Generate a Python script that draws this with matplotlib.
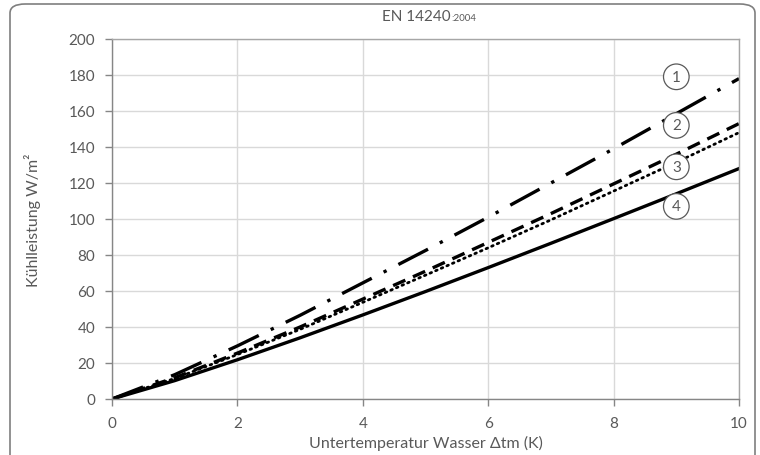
import matplotlib
matplotlib.use("Agg")
import matplotlib.pyplot as plt
from matplotlib.patches import FancyBboxPatch

plt.rcParams['font.family'] = ['Lato', 'DejaVu Sans']

dt = [0, 1, 2, 3, 4, 5, 6, 7, 8, 9, 10]
curve1 = [0, 13.5, 29.5, 46.5, 64.5, 82.5, 101, 120, 139, 158.5, 178]
curve2 = [0, 11.8, 25.5, 40, 55.5, 71, 87, 103, 119.5, 136, 153]
curve3 = [0, 11.4, 24.7, 38.7, 53.7, 68.8, 84, 99.5, 115.5, 131.5, 148]
curve4 = [0, 10.2, 21.8, 34.0, 46.7, 59.7, 73.0, 86.5, 100.2, 114.0, 128]
labels = ["1", "2", "3", "4"]
label_x = [9.0, 9.0, 9.0, 9.0]
label_y = [179, 152, 129, 107]
xticks = [0, 2, 4, 6, 8, 10]
yticks = [0, 20, 40, 60, 80, 100, 120, 140, 160, 180, 200]

grey = '#595959'
fig = plt.figure(figsize=(7.6, 4.56), dpi=100)
ax = fig.add_axes([112/760, 1-400/456, (739-112)/760, (400-40)/456])

ax.plot(dt, curve1, color='black', lw=2.4, dashes=(10, 4, 1, 4), solid_capstyle='butt')
ax.plot(dt, curve2, color='black', lw=2.4, dashes=(4, 2.5))
ax.plot(dt, curve3, color='black', lw=2.0, linestyle=(0, (0.6, 1.6)), dash_capstyle='round')
ax.plot(dt, curve4, color='black', lw=2.4)

for t, x, y in zip(labels, label_x, label_y):
    ax.text(x, y, t, ha='center', va='center', fontsize=11, color=grey,
            bbox=dict(boxstyle='circle,pad=0.38', fc='white', ec=grey, lw=0.9), zorder=5)

ax.set_xlim(0, 10)
ax.set_ylim(0, 200)
ax.set_xticks(xticks)
ax.set_yticks(yticks)
ax.grid(True, color='#d9d9d9', lw=1.0)
ax.set_axisbelow(True)
for s in ['left', 'bottom']:
    ax.spines[s].set_color('#868686')
    ax.spines[s].set_linewidth(1.0)
for s in ['top', 'right']:
    ax.spines[s].set_color('#a6a6a6')
    ax.spines[s].set_linewidth(1.0)
ax.tick_params(colors='#868686', labelcolor=grey, labelsize=11, length=5, width=1.0, pad=7)

ax.set_xlabel('Untertemperatur Wasser Δtm (K)', color=grey, fontsize=11.5, labelpad=4)
ax.set_ylabel('Kühlleistung W/m²', color=grey, fontsize=11.5, labelpad=20)

t1 = fig.text(425/760 - 0.012, 1-21/456, 'EN 14240', ha='center', va='baseline', fontsize=11, color=grey)
fig.canvas.draw()
bb = t1.get_window_extent()
fig.text(bb.x1/760 + 0.001, 1-21/456, ':2004', ha='left', va='baseline', fontsize=7, color=grey)

border = FancyBboxPatch((10/760, -0.05), (755-10)/760, (451/456)+0.05,
                        boxstyle='round,pad=0,rounding_size=0.02', transform=fig.transFigure,
                        fc='none', ec='#7f7f7f', lw=1.2, clip_on=False)
fig.patches.append(border)

fig.savefig('out.png', dpi=100)
